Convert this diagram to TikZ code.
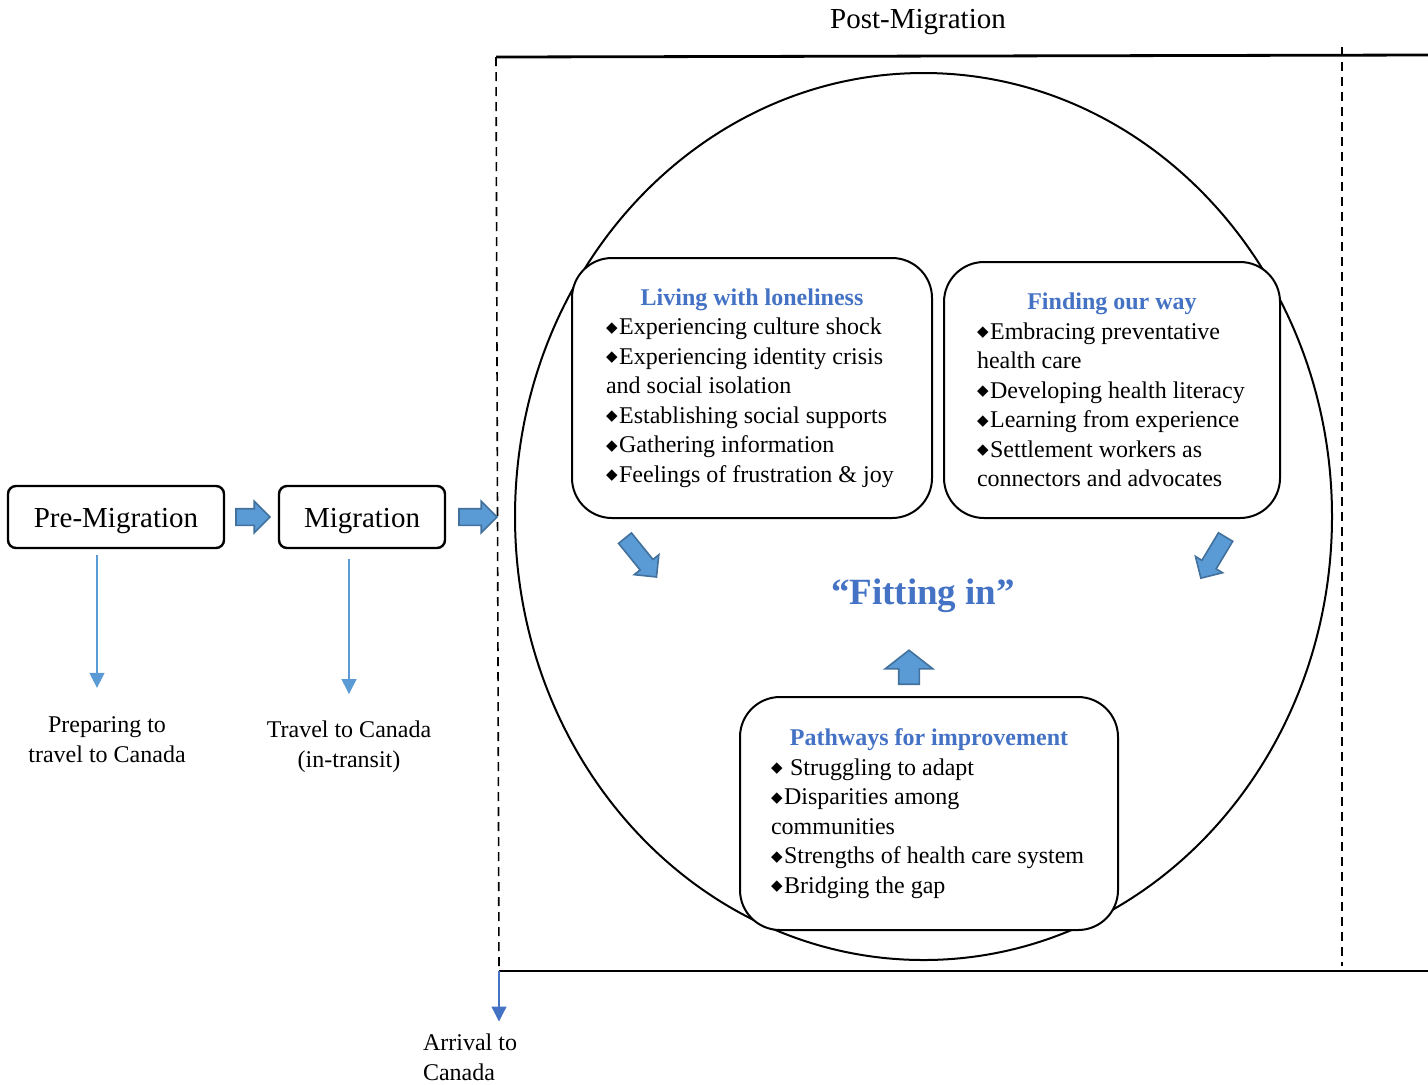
\documentclass[tikz,border=0pt]{standalone}
\usepackage{fontspec}
\setmainfont{Liberation Serif}
\newfontfamily\dejavu{DejaVu Sans}
\usetikzlibrary{shapes.arrows, arrows.meta, positioning}
\definecolor{titleblue}{HTML}{4472C4}
\definecolor{arrowfill}{HTML}{5B9BD5}
\definecolor{arrowedge}{HTML}{41719C}
\hyphenpenalty=10000
\exhyphenpenalty=10000
\newcommand{\bul}{{\dejavu\fontsize{7.5pt}{7.5pt}\selectfont\raisebox{1.2pt}{◆}}\hspace{0.8pt}}
\newcommand{\themetitle}[1]{{\centering\bfseries\color{titleblue}#1\par}\rightskip=0pt plus 1fil minus 10pt\relax}

\begin{document}
\begin{tikzpicture}[
    x=0.5pt, y=-0.5pt,
    >={Triangle[width=7.5pt, length=7.5pt]},
    phase/.style={draw, line width=1.2pt, rounded corners=4pt, minimum height=31pt, text height=10.5pt, text depth=0.5pt, font=\fontsize{14.5pt}{17pt}\selectfont},
    theme/.style={draw, fill=white, line width=1pt, rounded corners=20pt, align=flush left, inner ysep=0pt, font=\fontsize{12pt}{14.75pt}\selectfont},
    phasenote/.style={align=center, font=\fontsize{12pt}{15pt}\selectfont},
    bigarrow/.style={single arrow, draw=arrowedge, fill=arrowfill, line width=0.8pt, inner xsep=0pt, inner ysep=3.75pt, single arrow head extend=3.75pt},
    flow/.style={->, draw=arrowfill, fill=arrowfill, line width=0.6pt},
    timeline/.style={line width=1.4pt},
    divider/.style={dash pattern=on 4.5pt off 3pt, line width=0.8pt}
  ]
    \useasboundingbox (0,0) rectangle (1428,1084);

    % post-migration frame
    \node[font=\fontsize{14.5pt}{17pt}\selectfont] (post) at (918,22) {Post-Migration};
    \coordinate (arrive) at (499,971);
    \draw[timeline] (496,57) -- (1428,55);
    \draw[timeline] (arrive) -- (1428,971);
    \draw[divider] (496,57) -- (arrive);
    \draw[divider] (1342,47) -- (1342,966);
    \draw[line width=1pt] (923.5,516.5) ellipse [x radius=408.5, y radius=443.5];

    % phases
    \node[phase, minimum width=108pt] (premig) at (116,517) {Pre-Migration};
    \node[phase, minimum width=83pt] (mig) at (362,517) {Migration};
    \node[bigarrow, minimum height=17pt, right=5pt of premig] (arrpre) {};
    \node[bigarrow, minimum height=19pt, right=6pt of mig] (arrmig) {};

    \node[phasenote] (prep) at (107,740) {Preparing to\\travel to Canada};
    \node[phasenote] (transit) at (349,747) {Travel to Canada\\(in-transit)};
    \node[phasenote, align=left, anchor=west] (arrival) at (416,1057) {Arrival to\\Canada};

    \draw[flow] ([xshift=-9.5pt, yshift=-3pt]premig.south) -- ([xshift=-5pt, yshift=11pt]prep.north);
    \draw[flow] ([xshift=-6.5pt, yshift=-5pt]mig.south) -- ([yshift=10pt]transit.north);
    \draw[flow, draw=titleblue, fill=titleblue] (arrive) -- ([yshift=2.5pt]arrive |- arrival.north);

    % themes
    \node[theme, minimum width=180pt, minimum height=130pt, text width=146pt, inner xsep=17pt] (lonely) at (752,388) {
      \themetitle{Living with loneliness}
      \bul Experiencing culture shock\\
      \bul Experiencing identity crisis\\
      and social isolation\\
      \bul Establishing social supports\\
      \bul Gathering information\\
      \bul Feelings of frustration \& joy
    };
    \node[theme, minimum width=168pt, minimum height=128pt, text width=135pt, inner xsep=16.5pt] (way) at (1112,390) {
      \themetitle{Finding our way}
      \bul Embracing preventative\\
      health care\\
      \bul Developing health literacy\\
      \bul Learning from experience\\
      \bul Settlement workers as\\
      connectors and advocates
    };
    \node[theme, minimum width=189pt, minimum height=116.5pt, text width=158pt, inner xsep=15.5pt] (paths) at (929,813.5) {
      \themetitle{Pathways for improvement}
      \bul\ Struggling to adapt\\
      \bul Disparities among\\
      communities\\
      \bul Strengths of health care system\\
      \bul Bridging the gap
    };

    \node[font=\fontsize{18.5pt}{22pt}\selectfont\bfseries, text=titleblue] (fitting) at (923,596) {“Fitting in”};
    \node[bigarrow, anchor=tail, rotate=-51, minimum height=25pt] (arrlonely) at (624.5,537.5) {};
    \node[bigarrow, anchor=tail, rotate=-121, minimum height=24pt] (arrway) at (1226,536.3) {};
    \node[bigarrow, anchor=tail, rotate=90, minimum height=17pt, inner ysep=4.75pt, single arrow head extend=6.75pt, single arrow tip angle=104] (arrpaths) at (909,685) {};
\end{tikzpicture}
\end{document}
